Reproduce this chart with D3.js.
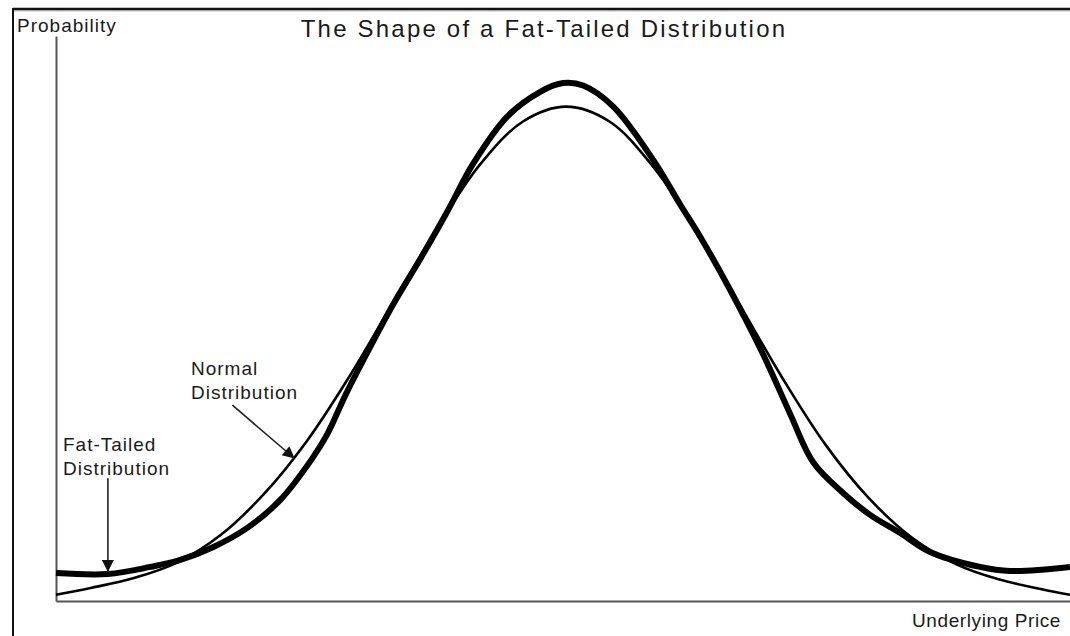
<!DOCTYPE html>
<html lang="en">
<head>
    <meta charset="UTF-8">
    <title>The Shape of a Fat-Tailed Distribution</title>
    <style>
        body { margin: 0; background: #fff; }
        svg { display: block; }
        text { font-family: "Liberation Sans", Arial, sans-serif; fill: #1a1a1a; }
        .axis path { stroke: #555; stroke-width: 2px; fill: none; }
        .axis line { display: none; }
    </style>
    <script src="https://d3js.org/d3.v7.min.js"></script>
</head>
<body>
    <svg width="1070" height="636"></svg>

    <script>
        // Underlying price in standard deviations from the mean
        const normalX = [-2.95, -2.75, -2.5, -2.25, -2, -1.75, -1.5, -1.25, -1, -0.75, -0.5, -0.25, 0,
                         0.25, 0.5, 0.75, 1, 1.25, 1.5, 1.75, 2, 2.25, 2.5, 2.75, 2.913];
        const normalY = [0.005, 0.0105, 0.0185, 0.031, 0.053, 0.086, 0.129, 0.182, 0.241, 0.300, 0.352, 0.387, 0.399,
                         0.387, 0.351, 0.300, 0.240, 0.180, 0.126, 0.083, 0.051, 0.030, 0.0175, 0.0095, 0.005];

        const fatX = [-2.95, -2.65, -2.405, -2.231, -2.04, -1.844, -1.653, -1.474, -1.382, -1.277, -1.156, -1.0,
                      -0.844, -0.688, -0.538, -0.341, -0.15, -0.017, 0.098, 0.272, 0.503, 0.659, 0.775, 0.948,
                      1.139, 1.295, 1.428, 1.601, 1.757, 1.931, 2.104, 2.393, 2.566, 2.913];
        const fatY = [0.0226, 0.0218, 0.0275, 0.0331, 0.0436, 0.059, 0.0816, 0.1139, 0.1345, 0.166, 0.199, 0.2395,
                      0.2760, 0.3142, 0.353, 0.391, 0.411, 0.418, 0.416, 0.399, 0.356, 0.320, 0.294, 0.2510,
                      0.199, 0.151, 0.112, 0.0872, 0.0695, 0.0549, 0.0396, 0.0275, 0.0242, 0.0275];

        const titleText = "The Shape of a Fat-Tailed Distribution";
        const yLabel = "Probability";
        const xLabel = "Underlying Price";
        const normalLabel = ["Normal", "Distribution"];
        const fatLabel = ["Fat-Tailed", "Distribution"];

        const svg = d3.select("svg");

        const x = d3.scaleLinear().domain([-2.95, 2.913]).range([56, 1070]);
        const y = d3.scaleLinear().domain([0, 0.456]).range([601, 36]);

        // outer frame (top and left edges only, the rest is cropped)
        svg.append("line").attr("x1", 13).attr("x2", 1070).attr("y1", 9).attr("y2", 9)
            .attr("stroke", "#111").attr("stroke-width", 2.5);
        svg.append("line").attr("x1", 13).attr("x2", 1070).attr("y1", 10.8).attr("y2", 10.8)
            .attr("stroke", "#999").attr("stroke-width", 1);
        svg.append("line").attr("x1", 13).attr("x2", 13).attr("y1", 8).attr("y2", 636)
            .attr("stroke", "#111").attr("stroke-width", 2);

        // axes without ticks
        svg.append("g").attr("class", "axis")
            .attr("transform", "translate(0," + y(0) + ")")
            .call(d3.axisBottom(x).tickValues([]).tickSizeOuter(0));
        svg.append("g").attr("class", "axis")
            .attr("transform", "translate(" + x.range()[0] + ",0)")
            .call(d3.axisLeft(y).tickValues([]).tickSizeOuter(0));

        const line = d3.line()
            .x(d => x(d[0]))
            .y(d => y(d[1]))
            .curve(d3.curveCatmullRom.alpha(0.5));

        svg.append("path")
            .datum(d3.zip(normalX, normalY))
            .attr("fill", "none").attr("stroke", "#000").attr("stroke-width", 2.6)
            .attr("d", line);

        svg.append("path")
            .datum(d3.zip(fatX, fatY))
            .attr("fill", "none").attr("stroke", "#000").attr("stroke-width", 6)
            .attr("stroke-linejoin", "round")
            .attr("d", line);

        // texts
        svg.append("text").attr("x", 544).attr("y", 37)
            .attr("text-anchor", "middle")
            .style("font-size", "24px").style("letter-spacing", "2.2px")
            .text(titleText);
        svg.append("text").attr("x", 17).attr("y", 32)
            .style("font-size", "19px").style("letter-spacing", "1px")
            .text(yLabel);
        svg.append("text").attr("x", 912).attr("y", 627)
            .style("font-size", "19px").style("letter-spacing", "0.6px")
            .text(xLabel);

        function label(lines, x0, y0) {
            const t = svg.append("text").attr("x", x0).attr("y", y0)
                .style("font-size", "19px").style("letter-spacing", "1px");
            lines.forEach((s, i) => {
                t.append("tspan").attr("x", x0).attr("dy", i === 0 ? 0 : 24).text(s);
            });
        }
        label(normalLabel, 191, 375);
        label(fatLabel, 63, 451);

        // arrows
        svg.append("defs").append("marker")
            .attr("id", "head")
            .attr("viewBox", "0 0 10 10")
            .attr("refX", 10).attr("refY", 5)
            .attr("markerUnits", "userSpaceOnUse")
            .attr("markerWidth", 18).attr("markerHeight", 12)
            .attr("orient", "auto")
          .append("path")
            .attr("d", "M0,0L10,5L0,10Z")
            .attr("fill", "#111");

        // fat-tailed arrow points straight down onto the thick curve
        svg.append("line")
            .attr("x1", x(-2.65)).attr("y1", y(0.099))
            .attr("x2", x(-2.65)).attr("y2", y(0.0218) - 2)
            .attr("stroke", "#222").attr("stroke-width", 1.6)
            .attr("marker-end", "url(#head)");

        // normal arrow onto the thin curve
        svg.append("line")
            .attr("x1", x(-1.93)).attr("y1", y(0.158))
            .attr("x2", x(-1.57)).attr("y2", y(0.115))
            .attr("stroke", "#222").attr("stroke-width", 1.6)
            .attr("marker-end", "url(#head)");
    </script>
</body>
</html>
